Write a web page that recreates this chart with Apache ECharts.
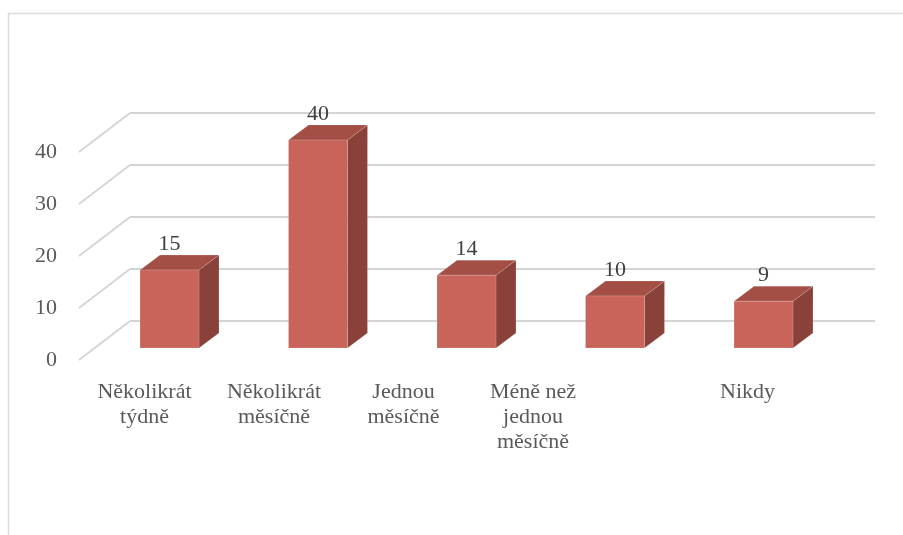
<!DOCTYPE html>
<html>
<head>
<meta charset="utf-8">
<script src="https://cdn.jsdelivr.net/npm/echarts@6/dist/echarts.min.js"></script>
<style>html,body{margin:0;padding:0;background:#fff}#c{width:903px;height:535px}</style>
</head>
<body>
<div id="c"></div>
<script>
const categories = ['Několikrát týdně', 'Několikrát měsíčně', 'Jednou měsíčně', 'Méně než jednou měsíčně', 'Nikdy'];
const values = [15, 40, 14, 10, 9];
const yTicks = [0, 10, 20, 30, 40];

const FONT = 'Liberation Serif';
const DX = 20, DY = -15;          // bar depth offset
const WX = 51, WY = -39;          // wall depth offset
const FRONT = '#C8645A', TOP = '#A34F46', SIDE = '#8A4139';
const GRID_C = '#d4d4d4';

const chart = echarts.init(document.getElementById('c'), null, {renderer: 'canvas'});

const labelMap = {
  'Několikrát týdně': 'Několikrát\ntýdně',
  'Několikrát měsíčně': 'Několikrát\nměsíčně',
  'Jednou měsíčně': 'Jednou\nměsíčně',
  'Méně než jednou měsíčně': 'Méně než\njednou\nměsíčně',
  'Nikdy': '{n|Nikdy}'
};

chart.setOption({
  animation: false,
  backgroundColor: '#fff',
  graphic: [{
    type: 'rect', silent: true, z: -10,
    shape: {x: 8.5, y: 13.5, width: 1200, height: 1200},
    style: {fill: 'none', stroke: '#dcdcdc', lineWidth: 1.5}
  }],
  grid: [
    {left: 95.25, right: 65.25, top: 140, height: 208},   // bars (front face plane)
    {left: 130, right: 28, top: 113, height: 208},         // back wall
    {left: 79, width: 51, top: 152, height: 208},          // side wall + y labels
    {left: 79.75, right: 175.75, top: 152, height: 208}    // category labels
  ],
  xAxis: [
    {gridIndex: 0, type: 'category', data: categories, show: false},
    {gridIndex: 1, type: 'value', min: 0, max: 1, show: false},
    {gridIndex: 2, type: 'value', min: 0, max: 1, show: false},
    {gridIndex: 3, type: 'category', data: categories,
     axisLine: {show: false}, axisTick: {show: false}, splitLine: {show: false},
     axisLabel: {
       interval: 0, margin: 20, color: '#595959', fontFamily: FONT, fontSize: 22, lineHeight: 25,
       formatter: v => labelMap[v],
       rich: {n: {padding: [0, 0, 0, 170], fontFamily: FONT, fontSize: 22, color: '#595959', lineHeight: 25}}
     }}
  ],
  yAxis: [
    {gridIndex: 0, type: 'value', min: 0, max: 40, show: false},
    {gridIndex: 1, type: 'value', min: 0, max: 40, interval: 10,
     axisLine: {show: false}, axisTick: {show: false}, axisLabel: {show: false},
     splitLine: {show: true, lineStyle: {color: GRID_C, width: 1.8}}},
    {gridIndex: 2, type: 'value', min: 0, max: 40, interval: 10,
     axisLine: {show: false}, axisTick: {show: false}, splitLine: {show: false},
     axisLabel: {margin: 22, color: '#595959', fontFamily: FONT, fontSize: 22}},
    {gridIndex: 3, type: 'value', min: 0, max: 40, show: false}
  ],
  series: [
    {
      type: 'custom', xAxisIndex: 2, yAxisIndex: 2, silent: true, z: 1,
      data: yTicks.map(t => [0, t]),
      renderItem: (params, api) => {
        const p = api.coord([0, api.value(1)]);
        return {type: 'line', shape: {x1: p[0], y1: p[1], x2: p[0] + WX, y2: p[1] + WY},
                style: {stroke: GRID_C, lineWidth: 1.8}};
      }
    },
    {
      type: 'custom', xAxisIndex: 0, yAxisIndex: 0, silent: true, z: 5,
      data: values.map((v, i) => [i, v]),
      renderItem: (params, api) => {
        const b = api.coord([api.value(0), 0]);
        const t = api.coord([api.value(0), api.value(1)]);
        const w = api.size([1, 0])[0] * 0.397;
        const x0 = b[0] - w / 2, x1 = b[0] + w / 2, yb = b[1], yt = t[1];
        const edge = 'rgba(255,255,255,0.25)';
        return {type: 'group', children: [
          {type: 'polygon', shape: {points: [[x1, yt], [x1 + DX, yt + DY], [x1 + DX, yb + DY], [x1, yb]]},
           style: {fill: SIDE, stroke: edge, lineWidth: 0.6}},
          {type: 'polygon', shape: {points: [[x0, yt], [x0 + DX, yt + DY], [x1 + DX, yt + DY], [x1, yt]]},
           style: {fill: TOP, stroke: edge, lineWidth: 0.6}},
          {type: 'polygon', shape: {points: [[x0, yt], [x1, yt], [x1, yb], [x0, yb]]},
           style: {fill: FRONT, stroke: edge, lineWidth: 0.6}},
          {type: 'text', x: b[0], y: yt - 26,
           style: {text: String(api.value(1)), align: 'center', verticalAlign: 'middle',
                   font: '22px "' + FONT + '"', fill: '#404040'}}
        ]};
      }
    }
  ]
});
</script>
</body>
</html>
